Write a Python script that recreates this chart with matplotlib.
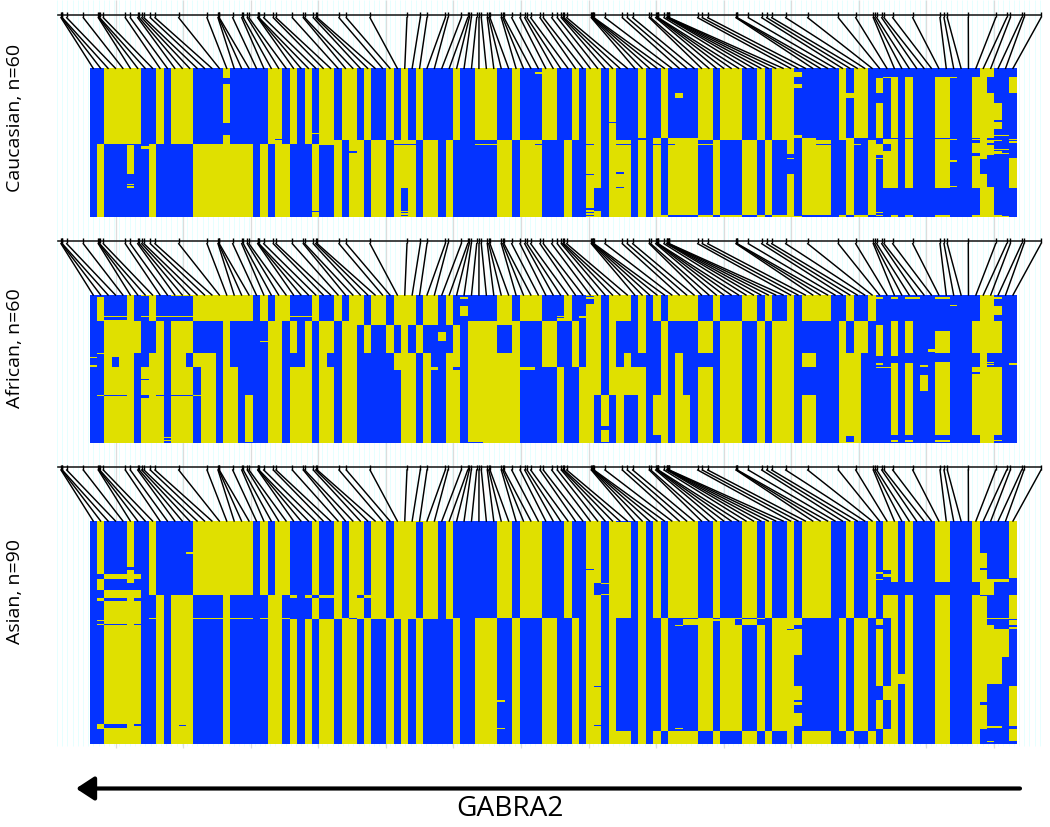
import matplotlib
matplotlib.use("Agg")
import matplotlib.pyplot as plt
from matplotlib.colors import ListedColormap
import numpy as np

BLUE = "#0433ff"
YELLOW = "#e0e000"
N_SNP = 125

# marker positions along the gene (px on the figure)
snp_pos = [61, 61.7, 62.3, 66.7, 83.3, 98.3, 99, 99.7, 103.3, 125.3, 130.3, 137.7, 139.3, 141.7, 144,
           150.3, 155, 178.7, 207, 218, 218.7, 219.3, 232.7, 241.7, 243.3, 247.3, 249, 257.7, 258.3, 259,
           263.7, 273.3, 276, 292.3, 303.3, 304.7, 313.3, 315.7, 317.3, 339, 346.3, 370, 407, 420.3, 427,
           445.3, 448, 461.3, 467.7, 469.3, 471.3, 476.7, 479, 481.3, 487.3, 488.7, 490, 501.3, 502.7, 504,
           511.7, 520, 524.7, 527, 530.7, 540, 543.3, 551.7, 557.3, 561.3, 562.7, 564, 566.7,
           591.3, 592, 592.7, 593.3, 594, 605, 622.3, 627.3, 632.7, 649.3, 650.7, 655.7, 657, 657.7, 658.3,
           664, 666.7, 667.3, 668, 668.7, 669.3, 697.7, 702.3, 707.7, 736, 736.7, 737.3, 748.3,
           761.7, 766.7, 771.7, 785.7, 807.7, 838.3, 855.7, 873.3, 874.7, 876.7, 881.7, 884, 892.7, 912.7,
           940, 944, 947.3, 968.3, 995.7, 1006.7, 1010.3, 1021.7, 1024, 1041]

# haplotype blocks: run lengths over the SNPs, blue first, then yellow, and so on
run_a_left = [2, 5, 2, 1, 1, 3, 4, 1, 5, 2, 1, 1, 1, 1, 1, 2, 1, 2, 1, 1, 2, 1, 1, 1, 1, 1, 4, 1, 2, 3, 2, 1, 3]
run_a_right = [2, 2, 1, 1, 2, 1, 1, 3, 1, 2, 1, 4, 2, 1, 3, 2, 1, 1, 3, 6, 1, 1, 2, 20]
run_b_left = [1, 1, 6, 1, 5, 8, 1, 1, 1, 2, 3, 1, 2, 1, 1, 2, 1, 2, 1, 3, 1, 2, 1, 1, 6, 2, 1, 3]
run_b_right = [3, 1, 2, 2, 1, 3, 1, 1, 1, 1, 1, 4, 2, 1, 3, 2, 1, 1, 2, 1, 1, 4, 2, 1, 2, 1, 19]
run_c = [2, 5, 2, 1, 1, 3, 4, 1, 5, 2, 1, 1, 1, 1, 3, 1, 1, 2, 1, 2, 1, 3, 1, 2, 1, 1, 6, 2, 1, 3]
run_d_right = [3, 1, 2, 2, 1, 3, 1, 1, 1, 2, 4, 2, 1, 3, 2, 1, 1, 3, 6, 1, 1, 2, 20]

run_t_left = [1, 1, 3, 1, 2, 1, 5, 8, 1, 1, 1, 2, 3, 1, 2, 1, 1, 2, 1, 2, 1, 3, 1, 2, 1, 1, 6, 2, 1, 3]
run_t_right = [3, 1, 2, 2, 1, 3, 1, 1, 1, 1, 1, 4, 2, 1, 3, 2, 1, 1, 2, 1, 1, 4, 2, 1, 2, 1, 14, 2, 3]
run_m_left = [2, 5, 2, 1, 1, 3, 4, 1, 5, 2, 1, 1, 1, 1, 1, 2, 1, 2, 1, 1, 2, 1, 1, 1, 1, 1, 4, 1, 1, 4, 2, 1, 3]
run_m_right = [2, 2, 1, 1, 2, 1, 1, 3, 1, 2, 1, 4, 2, 1, 3, 2, 1, 1, 3, 6, 1, 1, 2, 1, 1, 1, 1, 1, 1, 3, 2, 3, 4, 2]
run_s_left = [2, 5, 2, 1, 1, 3, 4, 1, 5, 2, 1, 1, 1, 1, 1, 2, 1, 3, 1, 2, 1, 3, 1, 2, 1, 1, 2, 7, 3]
run_l_left = [2, 1, 1, 2, 2, 2, 1, 2, 1, 3, 1, 1, 5, 2, 3, 1, 1, 1, 2, 2, 5, 3, 1, 1, 2, 2, 1, 7, 3]
run_l_right = [2, 2, 1, 1, 2, 1, 1, 1, 1, 4, 1, 1, 1, 5, 3, 2, 1, 1, 3, 1, 2, 3, 3, 21]
run_e_left = [2, 4, 1, 3, 1, 3, 1, 2, 1, 2, 4, 2, 1, 3, 1, 2, 1, 2, 6, 2, 1, 1, 2, 2, 1, 7]
run_e1_right = [5, 1, 2, 3, 1, 5, 2, 1, 1, 1, 2, 2, 1, 3, 2, 1, 1, 3, 6, 3, 4, 1, 1, 1, 3, 2, 3, 4, 2]
run_e2_right = [5, 1, 2, 2, 1, 1, 1, 1, 2, 1, 1, 2, 1, 2, 1, 2, 1, 3, 2, 1, 1, 3, 1, 2, 3, 3, 4, 1, 1, 1, 3, 2, 3, 4, 2]

run_u_right = [3, 1, 2, 2, 1, 3, 1, 1, 1, 1, 1, 4, 2, 1, 3, 2, 1, 1, 2, 1, 1, 4, 2, 1, 2, 1, 1, 2, 1, 1, 3, 2, 3, 1, 4, 1]
run_v_left = [2, 5, 2, 1, 1, 3, 4, 1, 5, 2, 4, 1, 2, 1, 1, 2, 1, 2, 1, 3, 1, 2, 1, 1, 6, 2, 1, 3]
run_v_right = [3, 1, 2, 2, 1, 3, 1, 1, 1, 1, 1, 4, 2, 1, 3, 2, 1, 1, 2, 1, 1, 4, 2, 1, 2, 1, 1, 2, 1, 1, 3, 2, 3, 2, 3, 1]
run_w_right = [2, 2, 1, 1, 2, 1, 1, 3, 1, 2, 1, 4, 2, 1, 3, 2, 1, 1, 3, 6, 1, 1, 2, 3, 1, 1, 1, 3, 2, 3, 1, 5]
run_y_left = [1, 6, 1, 2, 1, 11, 1, 4, 3, 1, 2, 2, 1, 11, 1, 2, 2, 3, 2, 1, 3]
run_x_right = [2, 2, 1, 1, 2, 1, 3, 1, 1, 1, 1, 1, 4, 2, 1, 3, 2, 1, 1, 2, 1, 1, 4, 2, 1, 2, 1, 1, 2, 1, 1, 3, 2, 3, 1, 4, 1]

# (number of haplotypes, runs)
caucasian_bands = [(58, run_a_left + run_a_right), (3, run_c + run_b_right),
                   (57, run_b_left + run_b_right), (2, run_b_left + run_d_right)]
african_bands = [(21, run_t_left + run_t_right), (3, run_s_left + run_m_right),
                 (23, run_m_left + run_m_right), (11, run_l_left + run_l_right),
                 (23, run_e_left + run_e1_right), (39, run_e_left + run_e2_right)]
asian_bands = [(60, run_t_left + run_u_right), (18, run_v_left + run_v_right),
               (1, run_y_left + run_w_right), (91, run_a_left + run_w_right),
               (10, run_a_left + run_x_right)]

# single alleles that differ from their block: (row0, row1, col0, col1, allele)
caucasian_flips = [
    (8, 13, 18, 19, 0), (44, 54, 18, 19, 0), (62, 85, 5, 6, 1), (93, 94, 5, 6, 1), (95, 97, 5, 6, 1),
    (63, 65, 7, 8, 1), (57, 58, 25, 26, 0), (52, 53, 30, 31, 1), (115, 116, 30, 31, 0), (58, 62, 31, 33, 1),
    (67, 68, 35, 36, 0), (61, 62, 41, 44, 0), (97, 115, 42, 43, 0), (116, 117, 42, 43, 0), (118, 119, 42, 43, 0),
    (61, 62, 52, 55, 1), (61, 62, 60, 61, 0), (3, 5, 60, 61, 1),
    (61, 62, 67, 68, 0), (85, 86, 67, 68, 0), (97, 115, 68, 69, 0), (113, 114, 67, 68, 0), (116, 117, 67, 68, 0),
    (118, 119, 67, 68, 0), (43, 44, 70, 71, 0), (61, 62, 71, 73, 0), (84, 85, 71, 72, 0),
    (96, 97, 71, 72, 0), (56, 58, 74, 75, 0), (56, 58, 76, 77, 1), (61, 62, 76, 77, 0), (56, 58, 77, 78, 0),
    (20, 24, 79, 80, 1), (56, 58, 78, 82, 1), (61, 62, 78, 79, 0), (61, 62, 82, 84, 1), (69, 85, 94, 95, 0), (72, 73, 94, 95, 1),
    (3, 7, 95, 96, 1), (13, 16, 95, 96, 1), (54, 56, 95, 96, 1), (119, 120, 95, 96, 1),
    (56, 58, 96, 98, 1), (61, 62, 98, 100, 0), (20, 24, 102, 103, 1), (56, 58, 102, 103, 1),
    (118, 120, 102, 103, 0), (56, 58, 103, 105, 0), (61, 62, 103, 104, 1),
    (8, 20, 106, 107, 1), (28, 56, 106, 107, 1), (61, 70, 106, 107, 1), (72, 73, 106, 107, 1),
    (116, 117, 106, 107, 1), (118, 119, 106, 107, 1),
    (7, 8, 107, 108, 1), (57, 61, 107, 108, 1), (67, 97, 107, 108, 1),
    (7, 56, 108, 109, 1), (57, 97, 108, 109, 1), (118, 120, 108, 109, 1),
    (7, 56, 110, 111, 1), (57, 97, 110, 111, 1), (118, 120, 110, 111, 1),
    (7, 56, 114, 116, 1), (57, 97, 114, 116, 1), (118, 120, 114, 116, 1),
    (7, 8, 116, 117, 1), (57, 58, 116, 117, 1), (74, 76, 116, 117, 1), (95, 96, 116, 117, 1),
    (7, 56, 119, 120, 1), (57, 58, 119, 120, 1), (60, 68, 119, 120, 1), (71, 97, 119, 120, 1), (118, 120, 119, 120, 1),
    (0, 73, 120, 121, 1), (85, 120, 120, 121, 1),
    (0, 7, 121, 122, 1), (20, 56, 121, 122, 1), (58, 60, 121, 122, 1), (62, 70, 121, 122, 1), (96, 120, 121, 122, 1),
    (28, 42, 122, 123, 1), (43, 49, 122, 123, 1), (54, 55, 122, 123, 1), (58, 59, 122, 123, 1), (65, 66, 122, 123, 1),
    (67, 69, 122, 123, 1), (118, 120, 122, 123, 1),
    (54, 55, 123, 124, 1), (65, 66, 123, 124, 1), (68, 69, 123, 124, 1), (119, 120, 123, 124, 1),
    (7, 20, 124, 125, 1), (57, 58, 124, 125, 1), (59, 60, 124, 125, 1), (72, 97, 124, 125, 1),
]

african_flips = [
    (0, 2, 1, 2, 0), (0, 1, 7, 8, 1), (0, 1, 11, 14, 1), (17, 18, 2, 5, 1), (17, 18, 7, 8, 1), (17, 18, 9, 14, 1),
    (17, 18, 17, 18, 1), (17, 18, 20, 22, 1), (17, 18, 23, 24, 1), (17, 18, 26, 30, 1), (20, 21, 2, 6, 1),
    (47, 48, 1, 4, 1), (50, 51, 0, 1, 1), (57, 58, 0, 1, 1), (47, 50, 3, 4, 1), (68, 69, 7, 8, 0),
    (81, 82, 1, 2, 1), (81, 82, 2, 5, 0), (81, 83, 7, 8, 0), (81, 82, 9, 14, 0), (81, 82, 14, 15, 1),
    (115, 116, 10, 11, 1), (117, 118, 10, 11, 1), (81, 119, 21, 22, 1), (37, 38, 23, 24, 1),
    (29, 37, 47, 48, 1), (29, 30, 47, 48, 0), (9, 17, 50, 51, 1), (2, 3, 50, 51, 1), (58, 61, 46, 47, 1),
    (58, 61, 49, 51, 0), (58, 61, 58, 60, 1), (58, 61, 41, 42, 1), (119, 120, 51, 53, 0),
    (1, 2, 67, 68, 0), (3, 7, 67, 68, 0), (17, 18, 63, 64, 1), (17, 19, 66, 67, 1), (19, 21, 63, 64, 1),
    (106, 109, 69, 70, 0), (119, 120, 69, 70, 0), (113, 120, 76, 77, 0), (114, 119, 102, 103, 0),
    (113, 120, 108, 109, 0), (113, 120, 110, 111, 0), (113, 120, 114, 116, 0), (113, 120, 119, 120, 0),
    (113, 120, 122, 123, 0), (117, 119, 108, 109, 1), (117, 119, 110, 111, 1), (117, 119, 114, 116, 1),
    (117, 118, 122, 123, 1), (2, 3, 106, 107, 1), (2, 3, 108, 109, 1), (2, 3, 110, 112, 1), (2, 3, 114, 116, 1),
    (8, 9, 116, 117, 1), (2, 3, 122, 123, 1), (9, 16, 122, 123, 1), (21, 24, 106, 107, 0), (21, 29, 114, 116, 0),
    (47, 49, 106, 107, 1), (47, 49, 108, 109, 1), (55, 58, 108, 109, 1), (55, 58, 110, 111, 1), (55, 57, 106, 107, 1),
    (58, 59, 106, 109, 1), (54, 58, 114, 116, 1), (44, 46, 113, 114, 1), (57, 58, 112, 113, 1), (65, 78, 112, 113, 1),
    (55, 57, 124, 125, 1), (47, 58, 120, 121, 1), (54, 55, 121, 122, 1), (56, 57, 121, 122, 1), (59, 60, 121, 122, 1),
    (62, 64, 119, 120, 0),
]

asian_flips = [
    (43, 120, 1, 2, 0), (47, 56, 1, 2, 1), (0, 43, 1, 2, 1), (62, 65, 1, 2, 1), (80, 81, 1, 2, 1), (83, 84, 1, 2, 1),
    (37, 40, 5, 6, 0), (43, 47, 2, 7, 1), (56, 60, 2, 7, 1), (50, 56, 5, 6, 0), (62, 65, 2, 5, 0), (62, 65, 6, 7, 0),
    (83, 84, 2, 5, 0), (83, 84, 6, 7, 0), (164, 168, 1, 2, 1), (164, 167, 2, 5, 0), (164, 166, 6, 7, 0),
    (25, 27, 13, 14, 1), (165, 166, 12, 13, 0), (60, 62, 27, 28, 1), (60, 62, 29, 30, 1), (60, 62, 30, 31, 0),
    (60, 62, 31, 33, 1), (60, 62, 36, 37, 0), (60, 62, 37, 38, 1), (165, 166, 34, 35, 1), (0, 1, 44, 45, 1),
    (145, 146, 55, 56, 1), (167, 168, 55, 56, 1),
    (39, 40, 67, 68, 0), (50, 60, 68, 69, 0), (50, 51, 69, 70, 1), (59, 60, 69, 70, 1), (133, 134, 68, 69, 0),
    (165, 166, 68, 69, 0), (0, 1, 71, 73, 0), (167, 168, 79, 80, 1),
    (79, 84, 80, 82, 1), (84, 85, 79, 80, 1), (79, 84, 87, 88, 0), (79, 84, 88, 90, 1), (79, 84, 90, 91, 0), (79, 81, 84, 85, 1),
    (87, 88, 94, 95, 0), (78, 84, 95, 96, 1), (87, 108, 95, 96, 1), (133, 145, 95, 96, 1), (146, 149, 95, 96, 1), (155, 166, 95, 96, 1),
    (41, 43, 106, 107, 1), (47, 48, 106, 107, 1), (40, 43, 107, 108, 0), (45, 60, 107, 108, 0), (49, 60, 108, 109, 0),
    (49, 60, 110, 111, 0), (49, 60, 114, 116, 0), (49, 60, 119, 120, 0), (79, 84, 106, 107, 1), (87, 133, 106, 107, 1),
    (145, 168, 106, 107, 1), (133, 145, 107, 108, 1), (168, 180, 107, 108, 1), (124, 132, 109, 110, 1), (0, 1, 109, 110, 0),
    (26, 38, 120, 121, 1), (40, 60, 120, 121, 1), (47, 60, 121, 122, 1), (47, 49, 122, 124, 1), (60, 61, 120, 121, 0),
    (78, 79, 121, 125, 1), (78, 146, 120, 121, 1), (149, 168, 120, 121, 1), (84, 132, 121, 122, 1), (87, 132, 122, 123, 1),
    (87, 110, 123, 124, 1), (166, 167, 121, 123, 1), (178, 179, 121, 122, 1),
    (46, 60, 124, 125, 0), (80, 84, 124, 125, 1), (86, 87, 124, 125, 1), (133, 166, 124, 125, 1), (168, 178, 124, 125, 1),
    (178, 180, 124, 125, 0),
]

labels = ["Caucasian, n=60", "African, n=60", "Asian, n=90"]
gene_name = "GABRA2"
label_y = [118, 348, 591]

# axis line y, heatmap top, heatmap bottom
panel_ys = [(14.7, 68.3, 217), (240.7, 295, 443.3), (467, 521, 743.7)]
heat_x0, heat_x1 = 89.5, 1016.7


def build_matrix(bands, flips):
    rows = []
    for n, runs in bands:
        assert sum(runs) == N_SNP, (n, sum(runs), runs)
        row = []
        allele = 0
        for r in runs:
            row += [allele] * r
            allele = 1 - allele
        rows += [row] * n
    mat = np.array(rows)
    for r0, r1, c0, c1, v in flips:
        mat[r0:r1, c0:c1] = v
    return mat


all_bands = [caucasian_bands, african_bands, asian_bands]
all_flips = [caucasian_flips, african_flips, asian_flips]
assert len(snp_pos) == N_SNP, len(snp_pos)

fig = plt.figure(figsize=(10.5, 8.27), dpi=100)
ax = fig.add_axes([0, 0, 1, 1])
ax.set_xlim(0, 1050)
ax.set_ylim(827, 0)
ax.axis("off")

# faint guide lines behind everything
ax.vlines(np.arange(57, 1043, 5.2), 0, 746, color="#e6ffff", lw=0.7, zorder=0)
ax.vlines(np.arange(115.7, 1000, 67.55), 0, 748, color="#dcdcdc", lw=0.9, zorder=0.5)

edges = np.linspace(heat_x0, heat_x1, N_SNP + 1)
centers = (edges[:-1] + edges[1:]) / 2
cmap = ListedColormap([BLUE, YELLOW])

for bands, flips, (ly, top, bottom) in zip(all_bands, all_flips, panel_ys):
    mat = build_matrix(bands, flips)
    ys = np.linspace(top, bottom, mat.shape[0] + 1)
    ax.pcolormesh(edges, ys, mat, cmap=cmap, vmin=0, vmax=1, zorder=2)
    ax.plot([58, 1041], [ly, ly], color="#222222", lw=1.2, zorder=3)
    ax.vlines(snp_pos, ly - 2.5, ly + 2.5, color="black", lw=1.0, zorder=3)
    for sx, cx in zip(snp_pos, centers):
        ax.plot([sx, cx], [ly + 3, top], color="black", lw=1.05, zorder=3)

for lab, y in zip(labels, label_y):
    ax.text(15, y, lab, rotation=90, ha="center", va="center", fontsize=14, family="Open Sans")

ax.annotate("", xy=(76, 788.5), xytext=(1020, 788.5),
            arrowprops=dict(arrowstyle="-|>,head_length=0.55,head_width=0.36", lw=3, color="black",
                            shrinkA=0, shrinkB=0, mutation_scale=20))
ax.text(510, 809, gene_name, ha="center", va="center", fontsize=20.2, family="Open Sans")

fig.savefig("out.png", dpi=100)
